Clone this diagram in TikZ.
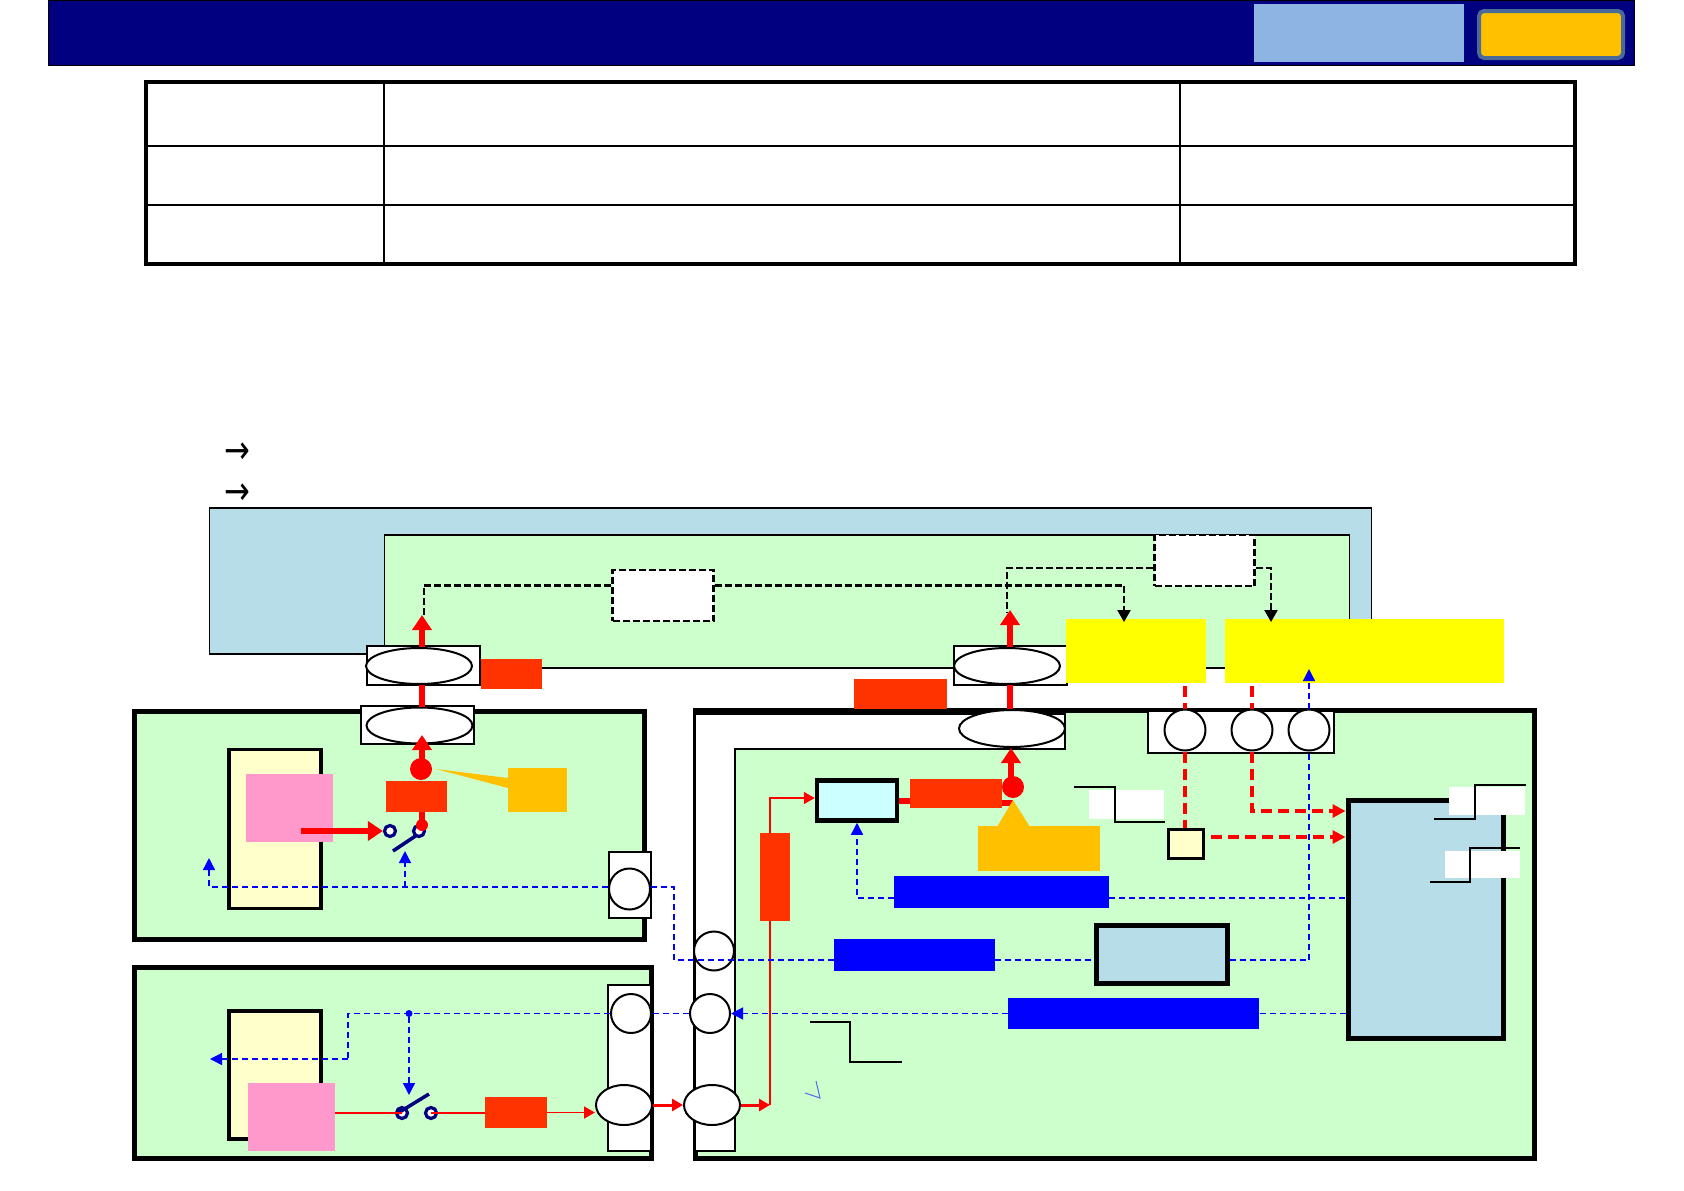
\documentclass[tikz,border=0pt]{standalone}
\usepackage{xcolor}
\usepackage{fontspec}
\newfontfamily\symfont{DejaVu Sans}
\usetikzlibrary{positioning, arrows.meta, shapes.geometric, calc}
\definecolor{navyhead}{HTML}{000080}
\definecolor{steelhead}{HTML}{8EB4E3}
\definecolor{tagblue}{HTML}{4A6A9A}
\definecolor{amber}{HTML}{FFC000}
\definecolor{busblue}{HTML}{B7DEE8}
\definecolor{baygreen}{HTML}{CCFFCC}
\definecolor{cream}{HTML}{FFFFCC}
\definecolor{rosepink}{HTML}{FF99CC}
\definecolor{hotred}{HTML}{FF3300}
\definecolor{icecyan}{HTML}{CCFFFF}
\definecolor{loadyellow}{RGB}{255,255,0}
\definecolor{purered}{RGB}{255,0,0}
\definecolor{pureblue}{RGB}{0,0,255}

\begin{document}
\begin{tikzpicture}[
    x=1pt, y=-1pt,
    bay/.style={rectangle, draw, line width=5pt, fill=baygreen, inner sep=0pt},
    port/.style={rectangle, draw, line width=2pt, fill=white, inner sep=0pt},
    oval/.style={ellipse, draw, line width=2pt, fill=white, inner sep=0pt},
    round/.style={circle, draw, line width=2pt, fill=white, inner sep=0pt, minimum size=41pt},
    fuse/.style={rectangle, fill=hotred, inner sep=0pt},
    drive/.style={rectangle, fill=pureblue, inner sep=0pt},
    pinkbox/.style={rectangle, fill=rosepink, inner sep=0pt},
    gate/.style={circle, draw=navyhead, line width=3.2pt, fill=white, inner sep=0pt, minimum size=11pt},
    lever/.style={navyhead, line width=3.5pt},
    pow/.style={purered, line width=6pt},
    powtip/.style={purered, line width=6pt, -{Triangle[length=15pt, width=19pt]}},
    feed/.style={purered, line width=1.8pt, -{Triangle[length=11pt, width=12pt]}},
    powdash/.style={purered, line width=4pt, dash pattern=on 11pt off 6pt},
    powdasharr/.style={powdash, -{Triangle[length=13pt, width=13pt]}},
    sig/.style={pureblue, line width=1.4pt, dash pattern=on 6pt off 4pt},
    sigarr/.style={sig, -{Triangle[length=12pt, width=12pt]}},
    ctl/.style={black, line width=2.2pt, dash pattern=on 7pt off 3pt},
    ctlarr/.style={ctl, -{Triangle[length=12pt, width=13pt]}},
    stepline/.style={black, line width=1.3pt},
    bullet/.style={inner sep=0pt, font=\symfont\fontsize{28}{28}\selectfont},
]
\useasboundingbox (0,0) rectangle (1684,1191);

\node[rectangle, draw, fill=navyhead, inner sep=0pt, minimum width=1586pt, minimum height=65pt] (head) at (841,32.5) {};
\node[rectangle, fill=steelhead, inner sep=0pt, minimum width=210pt, minimum height=58pt] (headtag) at (1359,33) {};
\node[rectangle, draw=tagblue, line width=4pt, fill=amber, rounded corners=5pt, inner sep=0pt, minimum width=144pt, minimum height=47pt] (headbtn) at (1551,34.5) {};

\node[rectangle, draw, line width=4.5pt, inner sep=0pt, minimum width=1429pt, minimum height=182pt] (table) at (860.5,173) {};
\foreach \x in {384,1180} \draw[line width=2pt] (\x,82) -- (\x,264);
\foreach \y in {145.5,205} \draw[line width=2pt] (146,\y) -- (1575,\y);

\node[bullet] (mark1) at (237,453) {\scalebox{1.1}[1.4]{→}};
\node[bullet] (mark2) at (237,494) {\scalebox{1.1}[1.4]{→}};

\node[rectangle, draw, line width=1.2pt, fill=busblue, inner sep=0pt, minimum width=1162pt, minimum height=146pt] (bus) at (790.5,581) {};
\node[rectangle, draw, line width=1.6pt, fill=baygreen, inner sep=0pt, minimum width=965pt, minimum height=133pt] (topbay) at (867,601.5) {};
\node[rectangle, draw, line width=2.2pt, dash pattern=on 7pt off 3pt, fill=white, inner sep=0pt, minimum width=101pt, minimum height=51pt] (relay1) at (663,595.5) {};
\node[rectangle, draw, line width=2.2pt, dash pattern=on 7pt off 3pt, fill=white, inner sep=0pt, minimum width=100pt, minimum height=51pt] (relay2) at (1204.5,560.5) {};

\node[bay, minimum width=510pt, minimum height=228pt] (bayA) at (389,825) {};
\node[bay, minimum width=517pt, minimum height=191pt] (bayB) at (392.5,1062.5) {};
\node[bay, minimum width=839pt, minimum height=448pt] (bayC) at (1114.5,934) {};
\draw[line width=2pt, fill=white] (695,714) -- (1065,714) -- (1065,749) -- (735,749) -- (735,1151) -- (695,1151) -- cycle;

\node[port, minimum width=113pt, minimum height=39pt] (portA) at (423.5,665) {};
\node[port, minimum width=113pt, minimum height=38pt] (portB) at (417,725) {};
\node[port, minimum width=113pt, minimum height=39pt] (portC) at (1010.5,665) {};
\node[oval, minimum width=106pt, minimum height=36pt] (ovalA) at (419,666) {};
\node[oval, minimum width=106pt, minimum height=36pt] (ovalB) at (419.5,725.5) {};
\node[oval, minimum width=106pt, minimum height=36pt] (ovalC) at (1007,666) {};
\node[oval, minimum width=106pt, minimum height=37pt] (ovalD) at (1012,728.5) {};

\node[rectangle, fill=loadyellow, inner sep=0pt, minimum width=140pt, minimum height=64pt] (load1) at (1136,651) {};
\node[rectangle, fill=loadyellow, inner sep=0pt, minimum width=279pt, minimum height=64pt] (load2) at (1364.5,651) {};

\node[fuse, minimum width=61pt, minimum height=30pt] (fuse1) at (511,674) {};
\node[fuse, minimum width=93pt, minimum height=30pt] (fuse2) at (900.5,694) {};

\node[port, minimum width=186pt, minimum height=42pt] (portE) at (1241,732) {};
\node[round] (pin1) at (1185,730) {};
\node[round] (pin2) at (1252,730) {};
\node[round] (pin3) at (1309,730) {};

% left upper bay
\node[rectangle, draw, line width=3.5pt, fill=cream, inner sep=0pt, minimum width=92pt, minimum height=159pt] (cellA) at (275,829) {};
\node[pinkbox, minimum width=87pt, minimum height=68pt] (pinkA) at (289.5,808) {};
\node[fuse, minimum width=61pt, minimum height=31pt] (fuse3) at (416,796.5) {};
\fill[amber] (436,769) -- (508,778) -- (508,788) -- cycle;
\node[rectangle, fill=amber, inner sep=0pt, minimum width=59pt, minimum height=44pt] (tagA) at (537.5,790) {};
\node[gate] (swAl) at (390,831) {};
\node[gate] (swAr) at (419,831) {};
\draw[lever] (393,851) -- (417,835);
\node[circle, fill=purered, inner sep=0pt, minimum size=22pt] (dotA) at (421,769) {};
\node[circle, fill=purered, inner sep=0pt, minimum size=12pt] (dotB) at (422,825) {};
\coordinate (pinkAout) at (301,831);
\draw[pow] (dotB.center) -- (fuse3.south -| dotB);
\draw[powtip] (pinkAout) -- (swAl.west);
\draw[powtip] (dotA.center -| 422,0) -- (422,735);
\draw[pow] (ovalA.south -| 422,0) -- (ovalB.north -| 422,0);
\node[port, minimum width=42pt, minimum height=66pt] (portF) at (630,885) {};
\node[round] (pin4) at (629.5,889) {};

% left lower bay
\node[rectangle, draw, line width=3.5pt, fill=cream, inner sep=0pt, minimum width=92pt, minimum height=128pt] (cellB) at (275,1075) {};
\node[pinkbox, minimum width=87pt, minimum height=68pt] (pinkB) at (291.5,1117) {};
\node[port, minimum width=43pt, minimum height=166pt] (portG) at (629.5,1068) {};
\node[oval, minimum width=40pt, minimum height=39pt] (pin5) at (631,1013.5) {};
\node[oval, minimum width=56pt, minimum height=40pt] (ovalE) at (624,1105) {};
\node[oval, minimum width=40pt, minimum height=39pt] (pin6) at (710,1013.5) {};
\node[oval, minimum width=40pt, minimum height=39pt] (pin7) at (714,951) {};
\node[oval, minimum width=56pt, minimum height=40pt] (ovalF) at (712,1105) {};
\node[gate] (swBl) at (402,1113) {};
\node[gate] (swBr) at (431,1113) {};
\draw[lever] (398,1113) -- (429,1094);
\node[fuse, minimum width=62pt, minimum height=31pt] (fuse4) at (516,1112.5) {};
\draw[purered, line width=1.8pt] (pinkB.east |- swBl) -- (swBl.center);
\draw[purered, line width=1.8pt] (swBr.center) -- (fuse4.west |- swBr);
\draw[feed] (fuse4.east) -- (ovalE.west |- fuse4);
\draw[feed, line width=3pt] (ovalE.east) -- (ovalF.west);
\coordinate (busrise) at (770,1105);
\draw[feed, line width=3pt] (ovalF.east) -- (busrise);

% right bay
\node[rectangle, draw, line width=4.5pt, fill=icecyan, inner sep=0pt, minimum width=80pt, minimum height=40pt] (ctrl) at (857,800.5) {};
\draw[feed] (busrise) -- (770,798) -- (ctrl.west |- 0,798);
\node[fuse, minimum width=30pt, minimum height=88pt] (fuse5) at (775,877) {};
\draw[pow] (ctrl.east) -- (910,800.5);
\node[fuse, minimum width=92pt, minimum height=29pt] (fuse6) at (956,793.5) {};
\draw[pow] (1002,803) -- (1013,803);
\node[circle, fill=purered, inner sep=0pt, minimum size=22pt] (dotC) at (1013,787) {};
\draw[powtip] (dotC.center -| 1011,0) -- (1011,748);
\draw[pow] (ovalC.south -| 1010,0) -- (ovalD.north -| 1010,0);
\fill[amber] (1013,800) -- (997,827) -- (1030,827) -- cycle;
\node[rectangle, fill=amber, inner sep=0pt, minimum width=122pt, minimum height=45pt] (tagB) at (1039,848.5) {};
\node[drive, minimum width=215pt, minimum height=32pt] (drv1) at (1001.5,892) {};
\node[drive, minimum width=161pt, minimum height=32pt] (drv2) at (914.5,955) {};
\node[drive, minimum width=251pt, minimum height=31pt] (drv3) at (1133.5,1013.5) {};
\node[rectangle, draw, line width=5pt, fill=busblue, inner sep=0pt, minimum width=131pt, minimum height=58pt] (ecu1) at (1161.5,954) {};
\node[rectangle, draw, line width=5pt, fill=busblue, inner sep=0pt, minimum width=155pt, minimum height=238pt] (ecu2) at (1425.5,919.5) {};
\node[rectangle, draw, line width=3.5pt, fill=cream, inner sep=0pt, minimum width=35pt, minimum height=29pt] (tiny) at (1186,844) {};

\node[rectangle, fill=white, inner sep=0pt, minimum width=75pt, minimum height=29pt] (lab1) at (1126.5,804.5) {};
\node[rectangle, fill=white, inner sep=0pt, minimum width=76pt, minimum height=28pt] (lab2) at (1487,801) {};
\node[rectangle, fill=white, inner sep=0pt, minimum width=75pt, minimum height=27pt] (lab3) at (1482,864) {};
\draw[stepline] (1074,787) -- (1115,787) -- (1115,822) -- (1165,822);
\draw[stepline] (1434,819) -- (1475,819) -- (1475,785) -- (1526,785);
\draw[stepline] (1430,882) -- (1470,882) -- (1470,848) -- (1520,848);
\draw[stepline] (810,1022) -- (850,1022) -- (850,1062) -- (902,1062);
\draw[steelhead!60!blue, line width=1pt] (805,1093) -- (820,1098) -- (816,1081);

% control lines
\draw[ctl] (relay1.west |- 0,585.5) -- (424,585.5) -- (424,618);
\draw[ctlarr] (relay1.east |- 0,585.5) -- (1124,585.5) -- (1124,622);
\draw[ctl] (relay2.west |- 0,568) -- (1007,568) -- (1007,612);
\draw[ctlarr] (relay2.east |- 0,568) -- (1271,568) -- (1271,622);
\draw[powtip] (ovalA.north -| 422,0) -- (422,615);
\draw[powtip] (ovalC.north -| 1010,0) -- (1010,610);

\draw[powdash] (1185,686) -- (pin1.north);
\draw[powdash] (pin1.south) -- (tiny.north -| pin1);
\draw[powdash] (1252,686) -- (pin2.north);
\draw[powdasharr] (pin2.south) -- (1252,811) -- (ecu2.west |- 0,811);
\draw[powdasharr] (tiny.east |- 0,837) ++(6,0) -- (ecu2.west |- 0,837);

\coordinate (busA) at (405,887);
\draw[sigarr] (pin4.west |- 0,887) -- (209,887) -- (209,858);
\draw[sigarr] (busA) -- (405,851);
\draw[sig] (pin4.east |- 0,887) -- (674,887) -- (674,960) -- (drv2.west |- 0,960);
\draw[sig] (drv2.east |- 0,960) -- (ecu1.west |- 0,960);
\draw[sig] (ecu1.east |- 0,960) -- (1309,960) -- (pin3.south);
\draw[sigarr] (pin3.north) -- (1309,669);
\draw[sig] (drv1.east |- 0,898) -- (ecu2.west |- 0,898);
\draw[sigarr] (drv1.west |- 0,898) -- (857,898) -- (ctrl.south);
\draw[sig] (ecu2.west |- drv3) -- (drv3.east);
\draw[sigarr] (drv3.west) -- (pin6.east);
\draw[sig] (pin6.west) -- (pin5.east);
\draw[sig] (pin5.west) -- (348,1013.5) -- (348,1059);
\draw[sigarr] (348,1059) -- (210,1059);
\node[circle, fill=pureblue, inner sep=0pt, minimum size=7pt] (dotD) at (409,1013.5) {};
\draw[sigarr] (dotD.south) -- (409,1095);

\end{tikzpicture}
\end{document}
